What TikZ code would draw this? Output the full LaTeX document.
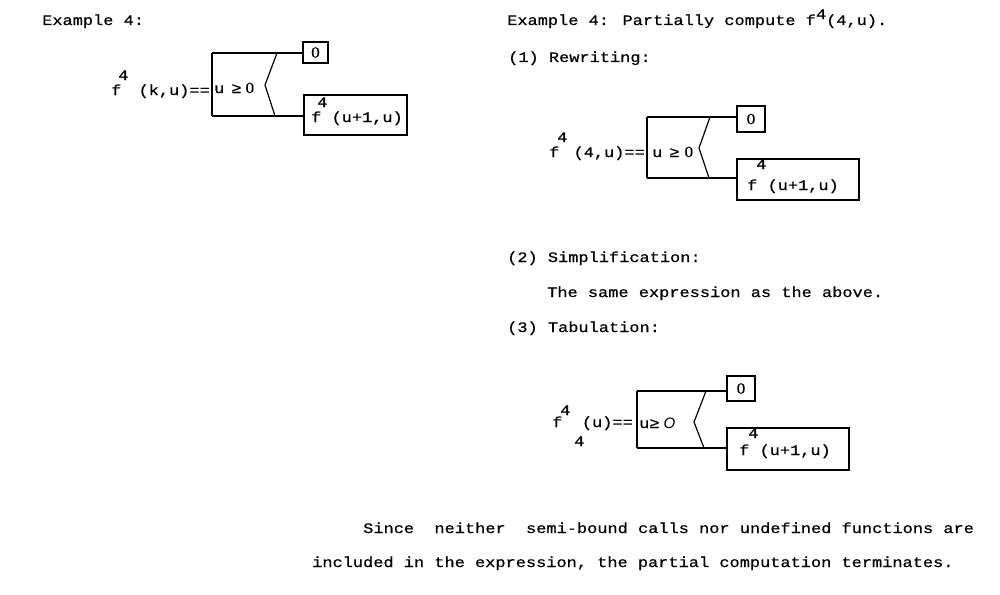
\documentclass[tikz,border=0pt]{standalone}
\usepackage{fontspec}
\newfontfamily\tw{Liberation Mono}[FakeStretch=1.17,FakeBold=0.6]
\newfontfamily\itsans{Liberation Sans}
\newfontfamily\zfont{Liberation Serif}[FakeBold=0.5,FakeStretch=1.1]
\newcommand{\zro}{{\zfont\fontsize{15.5}{18}\selectfont 0}}
\begin{document}
\begin{tikzpicture}[x=1pt,y=-1pt,
  txt/.style={inner sep=0pt, anchor=base west, font=\tw\fontsize{14.5}{18}\selectfont},
  txte/.style={txt, anchor=base east},
  valbox/.style={draw, line width=1.2pt, inner sep=0pt, font=\tw\fontsize{14.5}{18}\selectfont},
  wire/.style={line width=1.2pt}]
\useasboundingbox (0,0) rectangle (1000,594);
\fill[white] (0,0) rectangle (1000,594);

% ---------- texts ----------
\node[txt] (t1) at (42,25) {Example 4:};
\node[txt] (t2) at (507,25) {Example 4: Partially compute f\raisebox{6pt}{4}(4,u).};
\node[txt] (t3) at (508,62) {(1) Rewriting:};
\node[txt] (t4) at (507,262) {(2) Simplification:};
\node[txt] (t5) at (547,297) {The same expression as the above.};
\node[txt] (t6) at (507,332) {(3) Tabulation:};
\node[txt] (t7) at (363,533) {Since\ \ neither\ \ semi-bound calls nor undefined functions are};
\node[txt] (t8) at (312,567) {included in the expression, the partial computation terminates.};

% ---------- diagram 1 ----------
\coordinate (a1tl) at (212,53);
\coordinate (a1bl) at (212,116);
\coordinate (a1z1) at (277,53);
\coordinate (a1z2) at (265,85);
\coordinate (a1z3) at (275,116);
\node[valbox, minimum width=25pt, minimum height=21pt] (a1zero) at (315.5,52.5) {\zro};
\node[valbox, minimum width=103pt, minimum height=40pt] (a1f) at (355.5,115) {};
\draw[wire] (a1tl) -- (a1bl);
\draw[wire] (a1tl) -- (a1tl -| a1zero.west);
\draw[wire] (a1bl) -- (a1bl -| a1f.west);
\draw[wire] (a1z1) -- (a1z2) -- (a1z3);
\node[txt] (a1c) at (214,93) {u\hspace{7pt}≥\hspace{4pt}\zro};
\node[txt] (a1lf) at (111,95) {f};
\node[txte] (a1lr) at (210,95) {(k,u)==};
\node[txt] (a1ls) at (118,80) {4};
\node[txt] (a1fs) at (317,107) {4};
\node[txt] (a1ft) at (311,122) {f (u+1,u)};

% ---------- diagram 2 ----------
\coordinate (a2tl) at (647,117);
\coordinate (a2bl) at (647,178);
\coordinate (a2z1) at (710,117);
\coordinate (a2z2) at (699,148);
\coordinate (a2z3) at (709,178);
\node[valbox, minimum width=28pt, minimum height=26pt] (a2zero) at (751,119) {\zro};
\node[valbox, minimum width=122pt, minimum height=41pt] (a2f) at (798,179.5) {};
\draw[wire] (a2tl) -- (a2bl);
\draw[wire] (a2tl) -- (a2tl -| a2zero.west);
\draw[wire] (a2bl) -- (a2bl -| a2f.west);
\draw[wire] (a2z1) -- (a2z2) -- (a2z3);
\node[txt] (a2c) at (652,157) {u\hspace{7pt}≥\hspace{5pt}\zro};
\node[txt] (a2lf) at (549,157) {f};
\node[txte] (a2lr) at (645,157) {(4,u)==};
\node[txt] (a2ls) at (557,142) {4};
\node[txt] (a2fs) at (756,169) {4};
\node[txt] (a2ft) at (747,190) {f (u+1,u)};

% ---------- diagram 3 ----------
\coordinate (a3tl) at (637,391);
\coordinate (a3bl) at (637,448);
\coordinate (a3z1) at (706,391);
\coordinate (a3z2) at (694,422);
\coordinate (a3z3) at (704,448);
\node[valbox, minimum width=28pt, minimum height=25pt] (a3zero) at (741,388.5) {\zro};
\node[valbox, minimum width=122pt, minimum height=42pt] (a3f) at (788,449) {};
\draw[wire] (a3tl) -- (a3bl);
\draw[wire] (a3tl) -- (a3tl -| a3zero.west);
\draw[wire] (a3bl) -- (a3bl -| a3f.west);
\draw[wire] (a3z1) -- (a3z2) -- (a3z3);
\node[txt] (a3c) at (639,428) {u≥\hspace{4pt}{\itsans\itshape\fontsize{15}{18}\selectfont O}};
\node[txt] (a3lf) at (552,427) {f};
\node[txte] (a3lr) at (633,427) {(u)==};
\node[txt] (a3ls) at (560,415) {4};
\node[txt] (a3li) at (574,446) {4};
\node[txt] (a3fs) at (748,438) {4};
\node[txt] (a3ft) at (739,455) {f (u+1,u)};
\end{tikzpicture}
\end{document}
